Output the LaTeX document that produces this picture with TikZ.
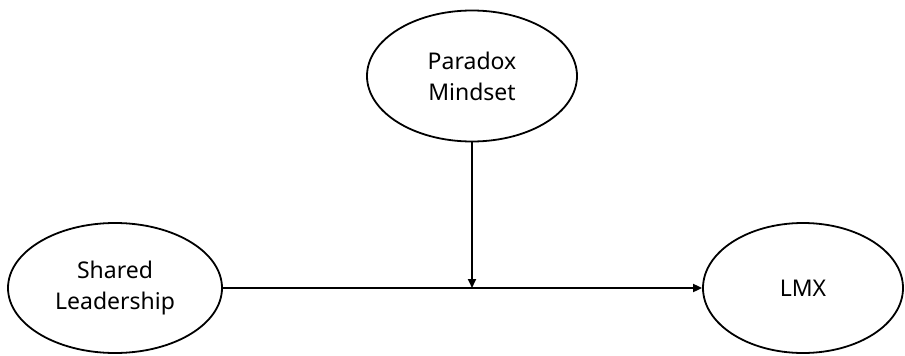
\documentclass[tikz,border=0pt]{standalone}
\usepackage{fontspec}
\setmainfont{Noto Sans}
\usetikzlibrary{shapes.geometric,arrows.meta}
\begin{document}
\begin{tikzpicture}[x=1pt,y=-1pt,
  var/.style={draw,line width=1.8pt,ellipse,inner sep=0pt,align=center,font=\fontsize{23}{31}\selectfont},
  link/.style={line width=1.8pt,-{Triangle[length=9pt,width=8pt]}}]
\useasboundingbox (0,0) rectangle (905,356);
\node[var,minimum width=210pt,minimum height=131pt] (pm) at (472,76) {Paradox\\Mindset};
\node[var,minimum width=214pt,minimum height=130pt] (sl) at (115,288) {Shared\\Leadership};
\node[var,minimum width=200pt,minimum height=130pt] (lmx) at (803,288) {LMX};
\draw[link] (sl.east) -- (lmx.west);
\coordinate (mid) at (pm.south |- sl.east);
\draw[link] (pm.south) -- (mid);
\end{tikzpicture}
\end{document}
